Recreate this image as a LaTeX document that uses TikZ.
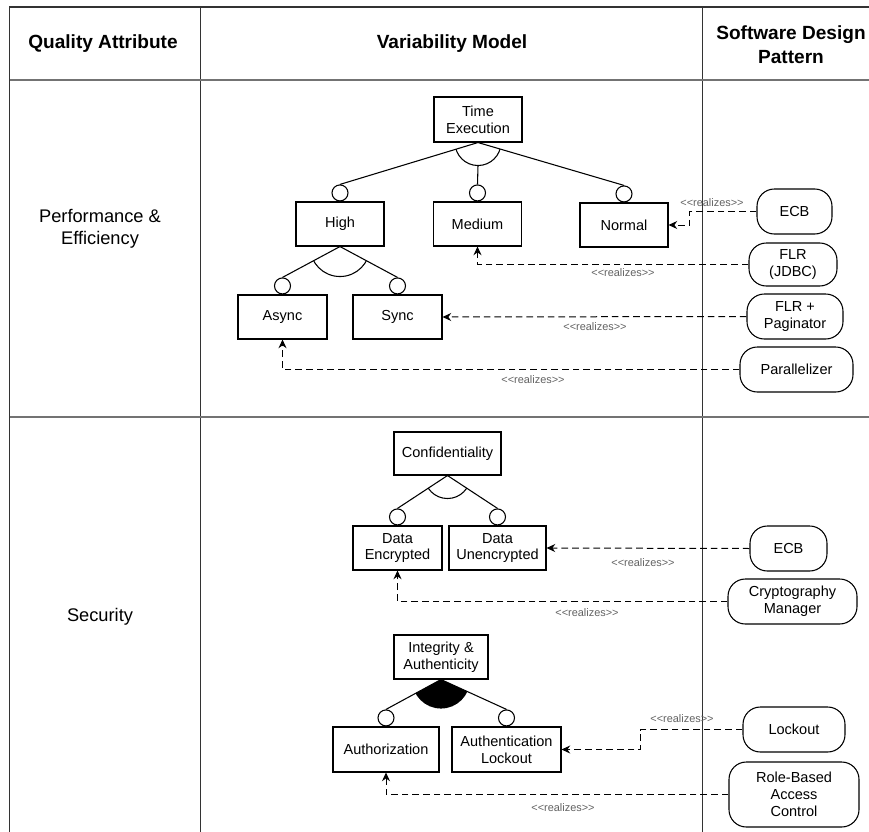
\documentclass[tikz,border=0pt]{standalone}
\usepackage{fontspec}
\setmainfont{Liberation Sans}
\usetikzlibrary{arrows.meta,calc}

% stereotype text; the kerns keep << and >> from turning into guillemets
\newcommand\rlz{<\kern0pt<realizes>\kern0pt>}

\begin{document}
\begin{tikzpicture}[x=0.75pt,y=-0.75pt,
  frame/.style={line width=1.3pt, draw=black!80},
  rule/.style={line width=1.2pt, draw=black!55},
  head/.style={font=\bfseries\fontsize{14.3}{18}\selectfont, align=center, inner sep=0pt},
  rowlbl/.style={font=\fontsize{13.7}{16.5}\selectfont, align=center, inner sep=0pt},
  feat/.style n args={2}{draw, rectangle, line width=0.8pt, minimum width=#1,
    minimum height=#2, inner sep=1pt, align=center,
    font=\fontsize{10.9}{12.5}\selectfont},
  pat/.style n args={2}{draw, rectangle, rounded corners=13pt, line width=0.8pt,
    minimum width=#1, minimum height=#2, inner sep=1pt, align=center,
    font=\fontsize{10.9}{12.8}\selectfont},
  opt/.style={draw, circle, line width=0.8pt, minimum size=12pt, inner sep=0pt, fill=white},
  tree/.style={line width=0.8pt},
  realize/.style={draw, line width=0.75pt, dash pattern=on 5pt off 3pt,
    -{Stealth[length=6.5pt,width=6pt]}},
  lbl/.style={font=\fontsize{8.2}{9}\selectfont, text=black!62, inner sep=0pt}
]
\useasboundingbox (0,0) rectangle (869,832);

% table grid
\draw[frame] (9.5,7) -- (869,7);
\draw[frame] (9.5,6) -- (9.5,832);
\draw[frame] (200.5,7) -- (200.5,832);
\draw[frame] (702.5,7) -- (702.5,832);
\draw[rule] (9.5,80) -- (869,80);
\draw[rule] (9.5,417) -- (869,417);

% column headings
\node[head] (h1) at (103,44) {Quality Attribute};
\node[head] (h2) at (452,44) {Variability Model};
\node[head] (h3) at (791,45) {Software Design\\Pattern};

% row headings
\node[rowlbl] (r1) at (100,229) {Performance \&\\Efficiency};
\node[rowlbl] (r2) at (100,617) {Security};

% ---- performance feature tree
\node[feat={66pt}{33.75pt}] (te) at (478,119.5) {Time\\Execution};
\node[feat={66pt}{33pt}] (high) at (340,224) {High};
\node[feat={66pt}{33pt}] (medium) at (477.5,224) {Medium};
\node[feat={66pt}{33pt}] (normal) at (624,225) {Normal};
\node[feat={66.75pt}{33pt}] (async) at (282.5,317) {Async};
\node[feat={66.75pt}{33pt}] (sync) at (397.5,317) {Sync};

\node[opt, anchor=south] (high-c) at (high.north) {};
\node[opt, anchor=south] (medium-c) at (medium.north) {};
\node[opt, anchor=south] (normal-c) at (normal.north) {};
\node[opt, anchor=south] (async-c) at (async.north) {};
\node[opt, anchor=south] (sync-c) at (sync.north) {};

\draw[tree] (te.south) -- (high-c.north);
\draw[tree] (te.south) -- (normal-c.north);
\draw[tree] ($(te.south)+(0,23)$) -- (medium-c.north);
\begin{scope}
  \clip (te.south) -- (high-c.north) -- (normal-c.north) -- cycle;
  \draw[tree] (te.south) circle[radius=23];
\end{scope}

\draw[tree] (high.south) -- (async-c.north);
\draw[tree] (high.south) -- (sync-c.north);
\begin{scope}
  \clip (high.south) -- (async-c.north) -- (sync-c.north) -- cycle;
  \draw[tree] (high.south) circle[radius=30];
\end{scope}

% ---- security feature trees
\node[feat={80.25pt}{32.25pt}] (conf) at (447.5,453.5) {Confidentiality};
\node[feat={66.75pt}{33pt}] (denc) at (397.5,548) {Data\\Encrypted};
\node[feat={72.75pt}{33pt}] (dunenc) at (497.5,548) {Data\\Unencrypted};
\node[opt, anchor=south] (denc-c) at (denc.north) {};
\node[opt, anchor=south] (dunenc-c) at (dunenc.north) {};
\draw[tree] (conf.south) -- (denc-c.north);
\draw[tree] (conf.south) -- (dunenc-c.north);
\begin{scope}
  \clip (conf.south) -- (denc-c.north) -- (dunenc-c.north) -- cycle;
  \draw[tree] (conf.south) circle[radius=23];
\end{scope}

\node[feat={70.5pt}{33pt}] (integ) at (441,657) {Integrity \&\\Authenticity};
\node[feat={79.5pt}{33.75pt}] (authz) at (386,749.5) {Authorization};
\node[feat={81.75pt}{33.75pt}] (authl) at (506.5,749.5) {Authentication\\Lockout};
\node[opt, anchor=south] (authz-c) at (authz.north) {};
\node[opt, anchor=south] (authl-c) at (authl.north) {};
\draw[tree] (integ.south) -- (authz-c.north);
\draw[tree] (integ.south) -- (authl-c.north);
\begin{scope}
  \clip (integ.south) -- (authz-c.north) -- (authl-c.north) -- cycle;
  \fill (integ.south) circle[radius=29];
\end{scope}

% ---- design patterns
\node[pat={56.25pt}{33.75pt}] (ecb1) at (794.5,211.5) {ECB};
\node[pat={66pt}{32.25pt}] (flr) at (793,264.5) {FLR\\(JDBC)};
\node[pat={72pt}{33.75pt}] (flrp) at (795,316.5) {FLR +\\Paginator};
\node[pat={84.75pt}{33.75pt}] (par) at (796.5,369.5) {Parallelizer};
\node[pat={57.75pt}{33.75pt}] (ecb2) at (788.5,548.5) {ECB};
\node[pat={96.75pt}{33.75pt}] (crypto) at (792.5,601.5) {Cryptography\\Manager};
\node[pat={76.5pt}{33.75pt}] (lock) at (794,729.5) {Lockout};
\node[pat={97.5pt}{48.75pt}] (rbac) at (794,794.5) {Role-Based\\Access\\Control};

% ---- realization links
\draw[realize] (ecb1.west) -- ++(-66.5,0) |- (normal.east);
\draw[realize] (flr.west) -| (medium.south);
\draw[realize] (flrp.west) -- (sync.east);
\draw[realize] (par.west) -| (async.south);
\draw[realize] (ecb2.west) -- (dunenc.east);
\draw[realize] (crypto.west) -| (denc.south);
\draw[realize] (lock.west) -- ++(-102,0) |- (authl.east);
\draw[realize] (rbac.west) -| (authz.south);

\node[lbl] (l1) at (712,203) {\rlz};
\node[lbl] (l2) at (623,273) {\rlz};
\node[lbl] (l3) at (595,327) {\rlz};
\node[lbl] (l4) at (533,380) {\rlz};
\node[lbl] (l5) at (643,563) {\rlz};
\node[lbl] (l6) at (587,613) {\rlz};
\node[lbl] (l7) at (682,719) {\rlz};
\node[lbl] (l8) at (563,808) {\rlz};
\end{tikzpicture}
\end{document}
